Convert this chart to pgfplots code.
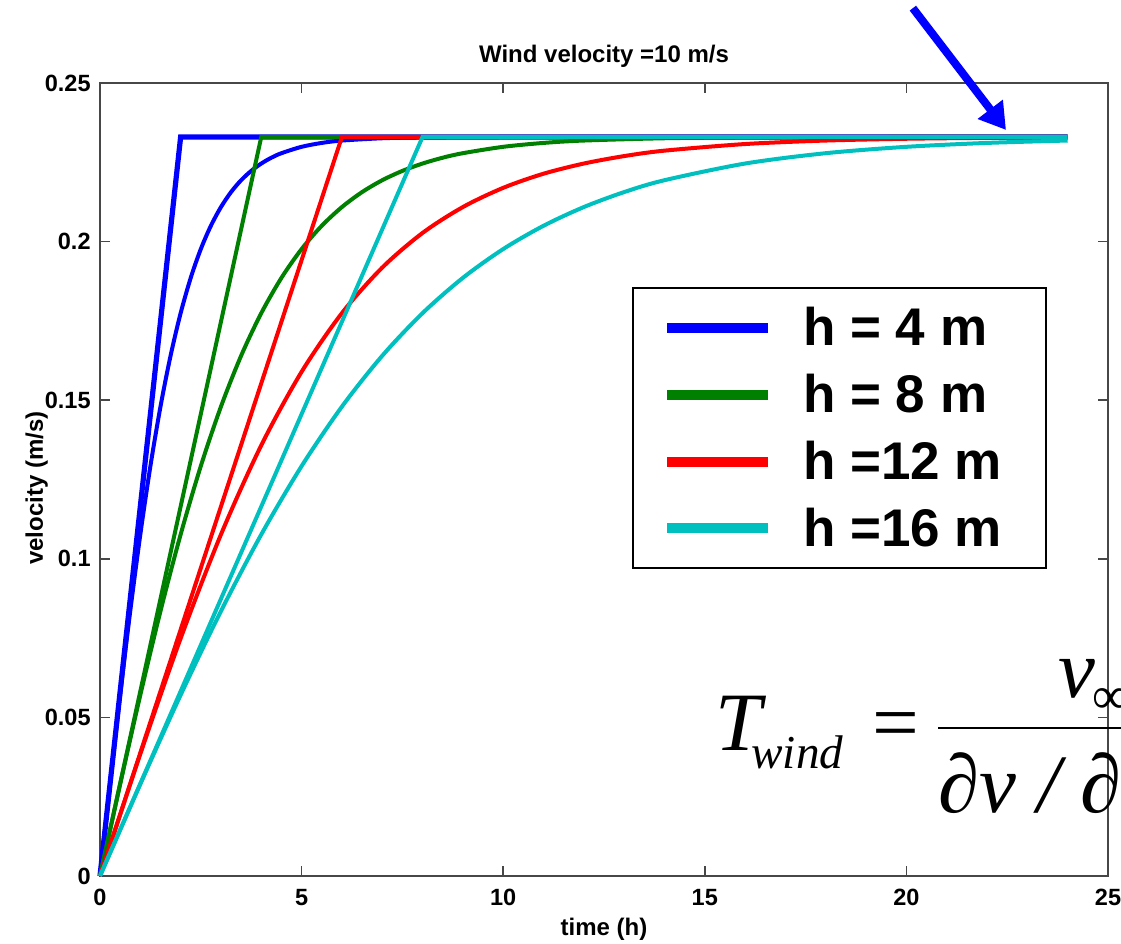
\documentclass[border=0pt]{standalone}
\usepackage{fontspec}
\setmainfont{Liberation Sans}
\newfontfamily\timesfont{Liberation Serif}
\usepackage{pgfplots}
\pgfplotsset{compat=1.18}
\usetikzlibrary{arrows.meta}
\definecolor{mgreen}{rgb}{0,0.5,0}
\definecolor{mcyan}{rgb}{0,0.75,0.75}
\begin{document}
\begin{tikzpicture}
\begin{axis}[
  scale only axis, width=504pt, height=396.5pt,
  xmin=0, xmax=25, ymin=0, ymax=0.25,
  clip=false,
  xtick={0,5,10,15,20,25}, xticklabels={0,5,10,15,20,25},
  ytick={0,0.05,0.1,0.15,0.2,0.25}, yticklabels={0,0.05,0.1,0.15,0.2,0.25},
  /pgf/number format/assume math mode=true,
  tick align=inside, major tick length=5pt,
  axis line style={black!72, line width=0.8pt},
  every tick/.style={black!72, line width=0.8pt},
  tick label style={font=\bfseries\fontsize{11.75}{12}\selectfont},
  yticklabel style={inner sep=0pt, xshift=-4.5pt},
  xticklabel style={inner sep=0pt, yshift=-6.5pt},
  title={Wind velocity =10 m/s},
  title style={font=\bfseries\fontsize{12}{12}\selectfont, at={(axis description cs:0.5,1)}, anchor=base, yshift=4pt},
  xlabel={time (h)},
  xlabel style={font=\bfseries\fontsize{12}{12}\selectfont, at={(axis description cs:0.5,0)}, anchor=base, yshift=-29.5pt},
  ylabel={velocity (m/s)},
  ylabel style={font=\bfseries\fontsize{12}{12}\selectfont, at={(axis description cs:-0.0566,0.489)}, anchor=base},
  legend style={at={(axis description cs:0.5278,0.7427)}, anchor=north west,
    draw=black, line width=1.2pt, inner xsep=14.5pt, inner ysep=9.5pt,
    font=\bfseries\fontsize{26.5}{26.5}\selectfont,
    nodes={inner sep=0pt}, row sep=12.7pt, column sep=15pt},
  legend cell align=left,
  legend image code/.code={\draw[#1, line width=5pt] (0pt,0pt) -- (50.5pt,0pt);},
]
% h = 4 m
\addplot[blue, line width=2.6pt, forget plot] coordinates {(0,0) (2,0.233) (24,0.233)};
\addplot[blue, line width=2pt, smooth] coordinates {
(0,0) (0.25,0.02899) (0.5,0.05706) (0.75,0.08351) (1,0.10767) (1.25,0.12922)
(1.5,0.14798) (1.75,0.16401) (2,0.17745) (2.25,0.18857) (2.5,0.19765)
(2.75,0.20499) (3,0.21089) (3.25,0.21561) (3.5,0.21935) (3.75,0.22229)
(4,0.22461) (4.25,0.22645) (4.5,0.22787)
(5,0.22988) (5.5,0.23111) (6,0.23186) (7,0.23258) (8,0.23284) (10,0.23298)
(12,0.233) (16,0.233) (20,0.233) (24,0.233)};
\addlegendentry{h = 4 m\kern7.5pt}
% h = 8 m
\addplot[mgreen, line width=2pt, forget plot] coordinates {(0,0) (4,0.233) (24,0.233)};
\addplot[mgreen, line width=2pt, smooth] coordinates {
(0,0) (0.5,0.02899) (1,0.05706) (1.5,0.08351) (2,0.10767) (2.5,0.12922)
(3,0.14798) (3.5,0.16401) (4,0.17745) (4.5,0.18857) (5,0.19765)
(5.5,0.20499) (6,0.21089) (6.5,0.21561) (7,0.21935) (7.5,0.22229)
(8,0.22461) (8.5,0.22645) (9,0.22787)
(10,0.22988) (11,0.23111) (12,0.23186) (14,0.23258) (16,0.23284)
(18,0.23294) (20,0.23298) (24,0.233)};
\addlegendentry{h = 8 m\kern7.5pt}
% h = 12 m
\addplot[red, line width=2pt, forget plot] coordinates {(0,0) (6,0.233) (24,0.233)};
\addplot[red, line width=2pt, smooth] coordinates {
(0,0) (1,0.03849) (2,0.07491) (3,0.10767) (4,0.13579) (5,0.15895)
(6,0.17745) (7,0.19181) (8,0.20273) (9,0.21089) (10,0.21695)
(11,0.22140) (12,0.22461) (13,0.22696) (14,0.22867) (16,0.23076)
(18,0.23186) (20,0.23242) (22,0.23270) (24,0.23284)};
\addlegendentry{h =12 m\kern7.5pt}
% h = 16 m
\addplot[mcyan, line width=2pt, forget plot] coordinates {(0,0) (8,0.233) (24,0.233)};
\addplot[mcyan, line width=2pt, smooth] coordinates {
(0,0) (1,0.02899) (2,0.05706) (3,0.08351) (4,0.10767) (5,0.12922)
(6,0.14798) (7,0.16401) (8,0.17745) (9,0.18857) (10,0.19765)
(11,0.20499) (12,0.21089) (13,0.21561) (14,0.21935) (16,0.22461)
(18,0.22787) (20,0.22988) (22,0.23111) (24,0.23186)};
\addlegendentry{h =16 m\kern7.5pt}
% arrow annotation
\draw[blue, line width=4pt, -{Triangle[length=13pt,width=15pt]}] (axis cs:20.16,0.2736) -- (axis cs:22.47,0.2352);
\end{axis}
% formula
\begin{scope}[shift={(current axis.south west)}]
\node[anchor=base west, inner sep=0pt, font=\timesfont\itshape\fontsize{41.5}{41.5}\selectfont] at (307.5pt,63pt) {T};
\node[anchor=base west, inner sep=0pt, font=\timesfont\itshape\fontsize{23.6}{23.6}\selectfont] at (325.5pt,54pt) {wind};
\node[anchor=base west, inner sep=0pt, font=\timesfont\fontsize{41.5}{41.5}\selectfont] at (386pt,63pt) {=};
\draw[line width=1.4pt] (419pt,74pt) -- (540pt,74pt);
\node[anchor=base west, inner sep=0pt, font=\timesfont\itshape\fontsize{41.5}{41.5}\selectfont] at (479pt,89.5pt) {v};
\node[anchor=base west, inner sep=0pt, font=\timesfont\fontsize{26}{26}\selectfont] at (496pt,81.5pt) {∞};
\node[anchor=base west, inner sep=0pt, font=\timesfont\itshape\fontsize{41.5}{41.5}\selectfont] at (419pt,32pt) {∂v / ∂t};
\end{scope}
\pgfresetboundingbox
\path[use as bounding box] ([shift={(-50pt,-33.5pt)}]current axis.south west) rectangle ([shift={(6.5pt,41.5pt)}]current axis.north east);
\end{tikzpicture}
\end{document}
